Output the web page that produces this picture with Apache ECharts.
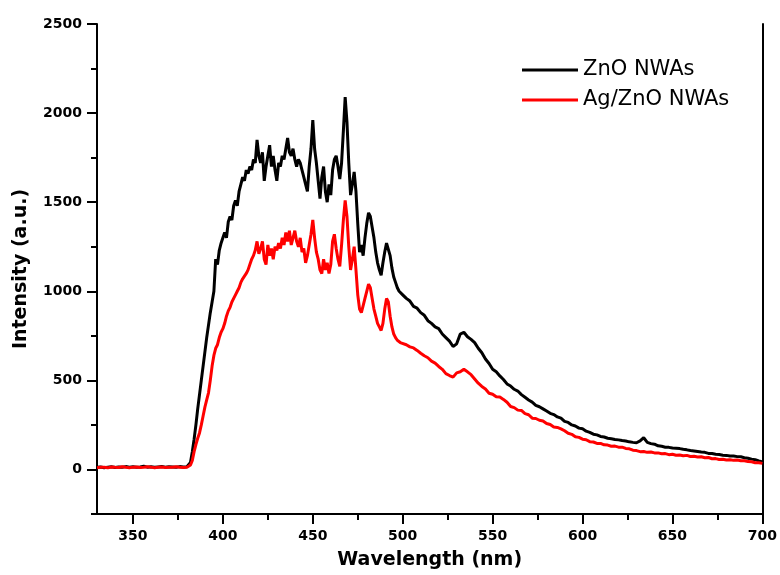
<!DOCTYPE html>
<html>
<head>
<meta charset="utf-8">
<script src="https://cdn.jsdelivr.net/npm/echarts@6/dist/echarts.min.js"></script>
<style>html,body{margin:0;padding:0;background:#fff}#c{width:780px;height:575px}</style>
</head>
<body>
<div id="c"></div>
<script>
// Wavelength (nm)
const wavelength = [
330,332,334,336,338,340,342,344,346,348,350,352,354,356,358,360,362,364,366,368,370,372,374,376,378,
380,381,382,383,384,385,386,387,388,389,390,391,392,393,394,395,396,397,398,399,
400,401,402,403,404,405,406,407,408,409,410,411,412,413,414,415,416,417,418,419,
420,421,422,423,424,425,426,427,428,429,430,431,432,433,434,435,436,437,438,439,
440,441,442,443,444,445,446,447,448,449,450,451,452,453,454,455,456,457,458,459,
460,461,462,463,464,465,466,467,468,469,470,471,472,473,474,475,476,477,478,479,
480,481,482,483,484,485,486,487,488,489,490,491,492,493,494,495,496,497,498,499,500,
502,504,506,508,510,512,514,516,518,520,522,524,526,528,530,532,534,536,538,540,
542,544,546,548,550,552,554,556,558,560,562,564,566,568,570,572,574,576,578,580,
582,584,586,588,590,592,594,596,598,600,602,604,606,608,610,612,614,616,618,620,
622,624,626,628,630,632,634,636,638,640,642,644,646,648,650,652,654,656,658,660,
662,664,666,668,670,672,674,676,678,680,682,684,686,688,690,692,694,696,698,700
];
// ZnO NWAs intensity (a.u.)
const znoNWAs = [
12,14,10,13,15,11,14,12,16,13,15,12,14,18,13,15,12,14,16,13,15,14,12,16,14,
15,22,40,100,170,250,340,420,500,580,660,740,810,880,940,1000,1180,1150,1230,1270,
1300,1330,1300,1390,1420,1400,1480,1510,1480,1560,1600,1640,1620,1680,1660,1700,1680,1740,1720,1850,
1760,1720,1780,1620,1700,1760,1820,1700,1760,1680,1620,1720,1700,1760,1740,1800,1860,1780,1760,1800,
1740,1700,1740,1720,1680,1640,1600,1560,1700,1800,1960,1800,1720,1620,1520,1640,1700,1560,1500,1600,
1540,1680,1740,1760,1700,1630,1720,1900,2090,1950,1720,1540,1600,1670,1560,1380,1220,1260,1200,1300,
1380,1440,1420,1360,1300,1220,1160,1120,1090,1160,1220,1270,1280,1200,1130,1080,1050,1020,1000,990,980,
960,945,915,905,880,865,835,820,800,790,760,740,720,690,705,760,770,745,730,712,
680,655,620,595,562,548,525,505,480,468,450,440,420,405,390,378,360,352,340,328,
315,308,295,288,270,264,250,244,232,228,215,208,198,194,185,182,175,172,168,166,
162,160,155,152,150,160,178,152,145,142,133,130,125,124,120,119,117,113,110,106,
104,101,98,96,90,89,85,84,80,79,76,75,72,71,66,63,58,55,48,42
];
// Ag/ZnO NWAs intensity (a.u.)
const agZnoNWAs = [
10,13,12,9,14,12,11,15,12,10,13,14,11,12,15,13,10,12,14,11,13,12,15,13,11,
12,15,25,50,100,140,175,205,250,300,350,390,430,500,580,640,680,700,740,770,
790,820,860,890,910,940,960,980,1000,1020,1050,1070,1080,1100,1120,1150,1180,1200,1230,1280,
1210,1240,1280,1180,1150,1260,1200,1240,1180,1250,1230,1270,1240,1300,1260,1330,1280,1340,1260,1300,
1340,1280,1250,1300,1220,1240,1160,1200,1260,1320,1400,1300,1220,1180,1120,1100,1180,1120,1160,1100,
1150,1280,1320,1240,1180,1140,1260,1400,1510,1420,1250,1120,1180,1250,1120,980,900,880,920,960,
1000,1040,1020,960,900,860,820,800,780,820,900,960,940,860,800,760,740,725,720,710,705,
700,688,682,668,652,638,627,608,597,578,562,538,527,518,542,548,562,548,532,508,
484,466,452,428,422,408,406,393,377,353,347,333,331,313,307,288,286,276,272,258,
252,238,236,228,217,203,197,183,180,170,167,156,154,146,146,138,137,130,131,125,
125,118,116,108,106,100,101,96,98,93,93,88,89,83,85,80,81,77,79,73,
74,70,71,66,67,60,61,56,57,53,55,51,53,49,49,44,43,38,38,34
];
const xLabelValues = [350,400,450,500,550,600,650,700];
const xMinorValues = [375,425,475,525,575,625,675];
const yLabelValues = [0,500,1000,1500,2000,2500];
const yMinorValues = [-250,250,750,1250,1750,2250];
const seriesNames = ['ZnO NWAs','Ag/ZnO NWAs'];

const zip = (xs, ys) => xs.map((x, i) => [x, ys[i]]);
const font = 'DejaVu Sans';
const plain = v => String(v);
const chart = echarts.init(document.getElementById('c'), null, {renderer: 'canvas'});
const axisLine = {show: true, onZero: false, lineStyle: {color: '#000', width: 2}};
chart.setOption({
  animation: false,
  backgroundColor: '#fff',
  grid: {left: 97, right: 17, top: 24, bottom: 61, containLabel: false},
  legend: {
    orient: 'vertical', left: 522, top: 59, itemGap: 8, padding: 0,
    itemWidth: 56, itemHeight: 3,
    textStyle: {fontFamily: font, fontSize: 21, color: '#000', lineHeight: 22},
    data: [{name: seriesNames[0], icon: 'rect'}, {name: seriesNames[1], icon: 'rect'}]
  },
  xAxis: [{
    type: 'value', position: 'bottom', min: 330, max: 700,
    name: 'Wavelength (nm)', nameLocation: 'middle', nameGap: 37,
    nameTextStyle: {fontFamily: font, fontWeight: 'bold', fontSize: 19, color: '#000'},
    axisLine: axisLine,
    axisTick: {show: true, inside: false, length: 10, customValues: xLabelValues, lineStyle: {color: '#000', width: 2}},
    axisLabel: {show: true, customValues: xLabelValues, formatter: plain, margin: 15, fontFamily: font, fontWeight: 'bold', fontSize: 14, color: '#000'},
    splitLine: {show: false}
  }, {
    type: 'value', position: 'bottom', min: 330, max: 700,
    axisLine: {show: false, onZero: false},
    axisTick: {show: true, inside: false, length: 6, customValues: xMinorValues, lineStyle: {color: '#000', width: 2}},
    axisLabel: {show: false}, splitLine: {show: false}
  }],
  yAxis: [{
    type: 'value', position: 'left', min: -250, max: 2500,
    name: 'Intensity (a.u.)', nameLocation: 'middle', nameGap: 66, nameRotate: 90,
    nameTextStyle: {fontFamily: font, fontWeight: 'bold', fontSize: 19, color: '#000'},
    axisLine: axisLine,
    axisTick: {show: true, inside: false, length: 10, customValues: yLabelValues, lineStyle: {color: '#000', width: 2}},
    axisLabel: {show: true, customValues: yLabelValues, formatter: plain, margin: 15, fontFamily: font, fontWeight: 'bold', fontSize: 14, color: '#000'},
    splitLine: {show: false}
  }, {
    type: 'value', position: 'left', min: -250, max: 2500,
    axisLine: {show: false, onZero: false},
    axisTick: {show: true, inside: false, length: 6, customValues: yMinorValues, lineStyle: {color: '#000', width: 2}},
    axisLabel: {show: false}, splitLine: {show: false}
  }, {
    type: 'value', position: 'right', min: -250, max: 2500,
    axisLine: axisLine, axisTick: {show: false}, axisLabel: {show: false}, splitLine: {show: false}
  }],
  series: [{
    name: seriesNames[0], type: 'line', xAxisIndex: 0, yAxisIndex: 0,
    data: zip(wavelength, znoNWAs), showSymbol: false, symbol: 'none',
    lineStyle: {color: '#000', width: 3}, itemStyle: {color: '#000'}
  }, {
    name: seriesNames[1], type: 'line', xAxisIndex: 0, yAxisIndex: 0,
    data: zip(wavelength, agZnoNWAs), showSymbol: false, symbol: 'none',
    lineStyle: {color: '#ff0000', width: 3}, itemStyle: {color: '#ff0000'}
  }]
});
</script>
</body>
</html>
